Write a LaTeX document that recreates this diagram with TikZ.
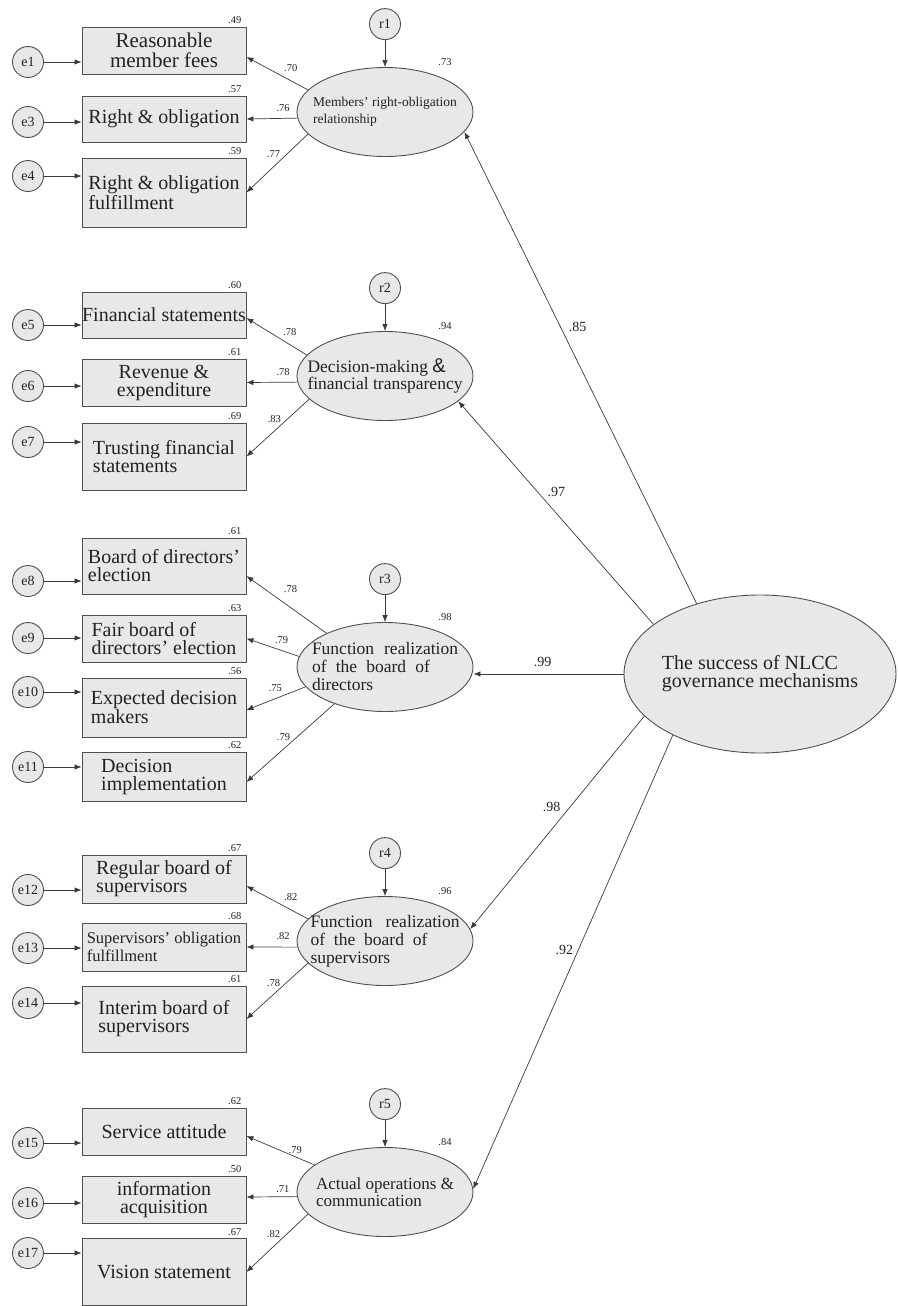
\documentclass[tikz,border=0pt]{standalone}
\usepackage{fontspec}
\setmainfont{Liberation Serif}
\newfontfamily\ampfont{Liberation Sans}
\usetikzlibrary{positioning, arrows.meta, shapes.geometric}
\definecolor{panel}{HTML}{E8E8E8}
\definecolor{edge}{HTML}{505050}
\definecolor{ink}{HTML}{222222}
\definecolor{wire}{HTML}{3A3A3A}
\tikzset{
  item/.style     = {rectangle, draw=edge, line width=0.9pt, fill=panel,
                    minimum width=164pt, inner sep=0pt, align=center,
                    text=ink, font=\fontsize{20}{18}\selectfont},
  itemleft/.style = {item, align=left},
  latent/.style   = {ellipse, draw=edge, line width=0.9pt, fill=panel,
                    minimum width=176pt, minimum height=89pt, inner sep=-20pt,
                    align=left, text=ink, font=\fontsize{17.5}{18}\selectfont},
  err/.style      = {circle, draw=edge, line width=0.9pt, fill=panel,
                    minimum size=31pt, inner sep=0pt, text=ink,
                    font=\fontsize{14}{14}\selectfont},
  sqr/.style      = {inner sep=1pt, text=ink, font=\fontsize{10.5}{10.5}\selectfont},
  coef/.style     = {inner sep=2pt, text=ink, font=\fontsize{10.5}{10.5}\selectfont},
  bigcoef/.style  = {inner sep=2pt, text=ink, font=\fontsize{14}{14}\selectfont},
  ar/.style       = {-{Latex[length=7pt,width=5.5pt]}, line width=0.7pt, draw=wire},
}

\begin{document}
\begin{tikzpicture}[x=1pt, y=1pt]
  \useasboundingbox (0,0) rectangle (897,-1306);

  % Second-order factor
  \node[latent, minimum width=272pt, minimum height=158pt,
        font=\fontsize{20}{18}\selectfont] (gov) at (760,-674)
       {The success of NLCC\\governance mechanisms};

  % First-order factors
  \node[latent, font=\fontsize{13.5}{16.5}\selectfont] (f1) at (385,-112)
       {Members' right-obligation\\relationship};
  \node[latent, font=\fontsize{17.5}{16}\selectfont] (f2) at (385,-376)
       {Decision-making {\ampfont\fontsize{20}{16}\selectfont\&}\\financial transparency};
  \node[latent] (f3) at (385,-667)
       {\makebox[146pt][s]{Function realization}\\\makebox[118pt][s]{of the board of}\\directors};
  \node[latent] (f4) at (385,-941)
       {\makebox[149pt][s]{Function realization}\\\makebox[117pt][s]{of the board of}\\supervisors};
  \node[latent, font=\fontsize{17}{17}\selectfont] (f5) at (385,-1192)
       {\makebox[138pt][s]{Actual operations \&}\\communication};

  % Residuals of the factors
  \node[err, above=27pt of f1] (r1) {r1};
  \node[err, above=27pt of f2] (r2) {r2};
  \node[err, above=27pt of f3] (r3) {r3};
  \node[err, above=27pt of f4] (r4) {r4};
  \node[err, above=27pt of f5] (r5) {r5};

  % Observed items
  \node[item, minimum height=47pt, font=\fontsize{21}{20}\selectfont] (i1) at (164,-50.5)
       {Reasonable\\member fees};
  \node[item, minimum height=46pt] (i3) at (164,-119) {Right \& obligation};
  \node[itemleft, minimum height=69pt] (i4) at (164,-192.5) {Right \& obligation\\fulfillment};

  \node[item, minimum height=46pt] (i5) at (164,-315) {Financial statements};
  \node[item, minimum height=47pt] (i6) at (164,-382.5) {Revenue \&\\expenditure};
  \node[itemleft, minimum height=67pt] (i7) at (164,-456.5) {Trusting financial\\statements};

  \node[itemleft, minimum height=56pt] (i8) at (164,-566) {Board of directors'\\election};
  \node[itemleft, minimum height=47pt] (i9) at (164,-638.5) {Fair board of\\directors' election};
  \node[itemleft, minimum height=59pt] (i10) at (164,-707.5) {Expected decision\\makers};
  \node[itemleft, minimum height=49pt] (i11) at (164,-776.5) {Decision\\implementation};

  \node[itemleft, minimum height=48pt] (i12) at (164,-879) {Regular board of\\supervisors};
  \node[itemleft, minimum height=48pt, font=\fontsize{16.5}{17.5}\selectfont] (i13) at (164,-947)
       {Supervisors' obligation\\fulfillment};
  \node[itemleft, minimum height=66pt] (i14) at (164,-1019) {Interim board of\\supervisors};

  \node[item, minimum height=47pt] (i15) at (164,-1131.5) {Service attitude};
  \node[item, minimum height=47pt] (i16) at (164,-1199.5) {information\\acquisition};
  \node[item, minimum height=67pt] (i17) at (164,-1272) {Vision statement};

  % Errors of the items
  \foreach \n/\y in {1/62, 3/122, 4/176, 5/325, 6/386, 7/442, 8/581, 9/638, 10/692,
                     11/767, 12/890, 13/948, 14/1003, 15/1143, 16/1203, 17/1253}
    \node[err] (e\n) at (28,-\y) {e\n};
  \foreach \n in {1,3,4,5,6,7,8,9,10,11,12,13,14,15,16,17}
    \draw[ar] (e\n) -- (e\n -| i\n.west);

  % Squared multiple correlations
  \foreach \b/\v in {i1/.49, i3/.57, i4/.59, i5/.60, i6/.61, i7/.69, i8/.61, i9/.63,
                     i10/.56, i11/.62, i12/.67, i13/.68, i14/.61, i15/.62, i16/.50, i17/.67}
    \node[sqr, anchor=south east] (q\b) at ([xshift=-4pt,yshift=1.5pt]\b.north east) {\v};
  \foreach \f/\v in {f1/.73, f2/.94, f3/.98, f4/.96, f5/.84}
    \node[sqr] (q\f) at ([xshift=60pt,yshift=5pt]\f.north) {\v};

  % Residual arrows
  \foreach \k in {1,...,5}
    \draw[ar] (r\k) -- (f\k);

  % Loadings
  \draw[ar] (f1.164) -- ([yshift=-6.5pt]i1.east) node[coef, pos=.28, above=7pt] {.70};
  \draw[ar] (f1.184) -- (i3.east) node[coef, pos=.28, above=4pt] {.76};
  \draw[ar] (f1.196) -- (i4.east) node[coef, pos=.35, left=4pt] {.77};

  \draw[ar] (f2.165) -- ([yshift=-3pt]i5.east) node[coef, pos=.28, above=7pt] {.78};
  \draw[ar] (f2.184) -- (i6.east) node[coef, pos=.28, above=4pt] {.78};
  \draw[ar] (f2.197) -- (i7.east) node[coef, pos=.35, left=4pt] {.83};

  \draw[ar] (f3.150) -- ([yshift=-10pt]i8.east) node[coef, pos=.45, above=13pt] {.78};
  \draw[ar] (f3.173) -- (i9.east) node[coef, pos=.33, above=5pt] {.79};
  \draw[ar] (f3.194) -- ([yshift=-2.5pt]i10.east) node[coef, pos=.51, above=5pt] {.75};
  \draw[ar] (f3.216) -- ([yshift=-5.5pt]i11.east) node[coef, pos=.42, left=5pt] {.79};

  \draw[ar] (f4.164) -- ([yshift=-7pt]i12.east) node[coef, pos=.28, above=7pt] {.82};
  \draw[ar] (f4.184) -- (i13.east) node[coef, pos=.28, above=5pt] {.82};
  \draw[ar] (f4.196) -- (i14.east) node[coef, pos=.35, left=4pt] {.78};

  \draw[ar] (f5.159) -- ([yshift=-4.5pt]i15.east) node[coef, pos=.28, above=1pt] {.79};
  \draw[ar] (f5.183) -- ([yshift=2.5pt]i16.east) node[coef, pos=.28, above=2pt] {.71};
  \draw[ar] (f5.196) -- (i17.east) node[coef, pos=.35, left=4pt] {.82};

  % Second-order paths
  \draw[ar] (gov.132) -- (f1.346) node[bigcoef, pos=.586, right=6pt] {.85};
  \draw[ar] (gov.155) -- (f2.341) node[bigcoef, pos=.595, right=8pt] {.97};
  \draw[ar] (gov.west) -- (gov.west -| f3.east) node[bigcoef, pos=.54, above=5pt] {.99};
  \draw[ar] (gov.200) -- (f4.8) node[bigcoef, pos=.428, left=7pt] {.98};
  \draw[ar] (gov.215) -- (f5.2) node[bigcoef, pos=.473, left=3pt] {.92};

\end{tikzpicture}
\end{document}
